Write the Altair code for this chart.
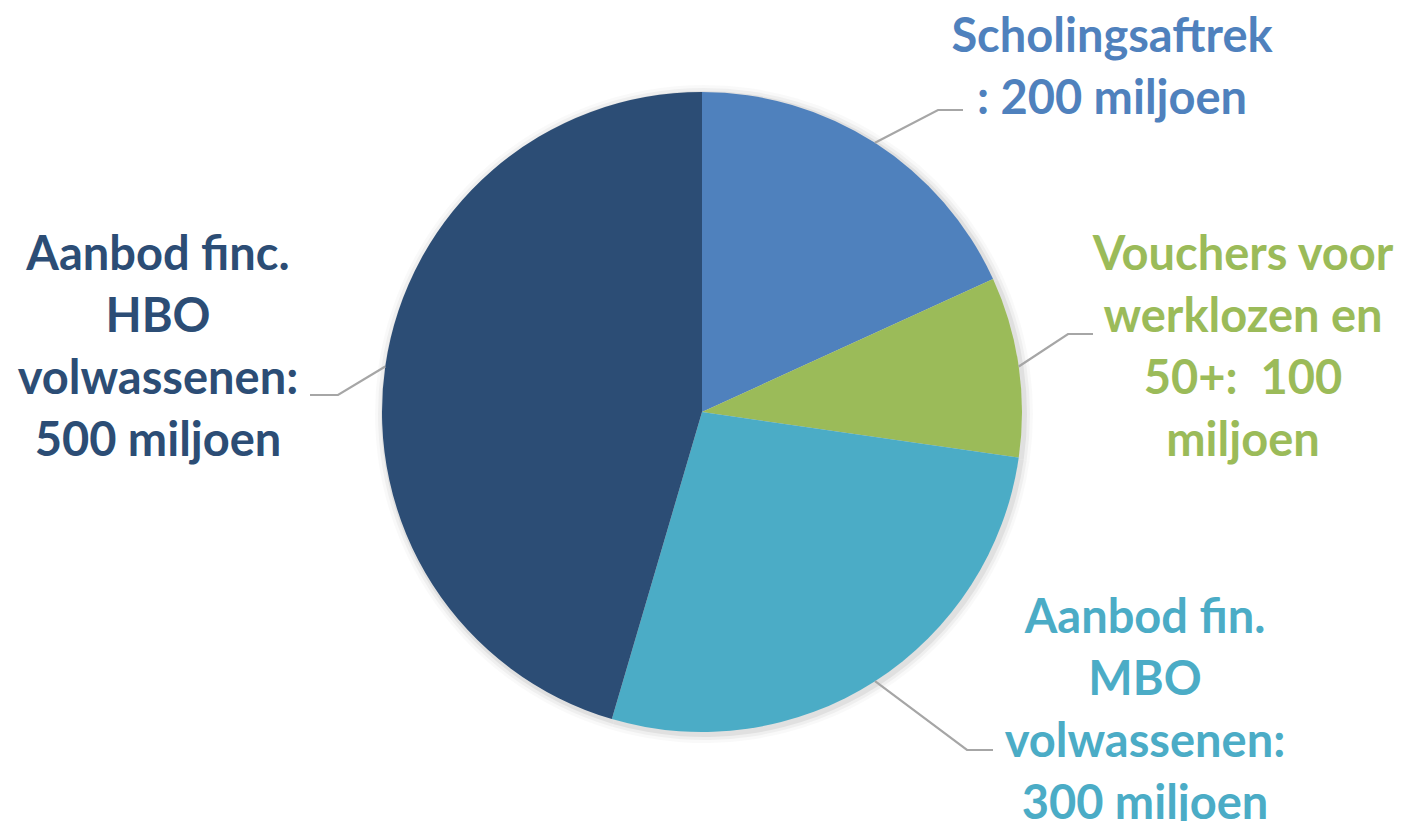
import altair as alt
import numpy as np
import pandas as pd

# ---- data ----
categories = [
    "Scholingsaftrek",
    "Vouchers voor werklozen en 50+",
    "Aanbod fin. MBO volwassenen",
    "Aanbod finc. HBO volwassenen",
]
values = [200, 100, 300, 500]
label_texts = [
    "Scholingsaftrek\n: 200 miljoen",
    "Vouchers voor\nwerklozen en\n50+:\u00a0 100\nmiljoen",
    "Aanbod fin.\nMBO\nvolwassenen:\n300 miljoen",
    "Aanbod finc.\nHBO\nvolwassenen:\n500 miljoen",
]
colors = ["#4F81BD", "#9BBB59", "#4BACC6", "#2C4D75"]

# ---- layout ----
W, H = 1387, 813
CX, CY = 694, 404
R = 320
label_pos = [(1104, 44), (1235, 262), (1137, 625), (150, 262)]
elbows = [(930, 102), (1060, 326), (959, 742), (330, 387)]
ends = [(955, 102), (1085, 326), (985, 742), (302, 387)]

vals = np.array(values, dtype=float)
total = vals.sum()
mid = (np.cumsum(vals) - vals / 2) / total * 2 * np.pi

df = pd.DataFrame({"category": categories, "value": values, "idx": range(len(values))})

color_scale = alt.Scale(domain=categories, range=colors)
xs = alt.Scale(domain=[0, W], nice=False, zero=False)
ys = alt.Scale(domain=[0, H], nice=False, zero=False, reverse=True)

# leader lines
rows = []
for i, c in enumerate(categories):
    sx = CX + R * np.sin(mid[i])
    sy = CY - R * np.cos(mid[i])
    pts = [(sx, sy), elbows[i], ends[i]]
    for k, (px, py) in enumerate(pts):
        rows.append({"category": c, "k": k, "x": px, "y": py})
lines_df = pd.DataFrame(rows)

lab_df = pd.DataFrame({
    "category": categories,
    "text": label_texts,
    "x": [p[0] for p in label_pos],
    "y": [p[1] for p in label_pos],
})

shadows = []
for r, op in [(329, 0.025), (326, 0.04), (323, 0.06)]:
    shadows.append(
        alt.Chart(df).mark_arc(outerRadius=r, color="#000000", opacity=op).encode(
            theta=alt.Theta("value:Q", stack=True),
            order=alt.Order("idx:Q"),
            x=alt.value(CX + 2),
            y=alt.value(CY + 2),
        )
    )

pie = alt.Chart(df).mark_arc(outerRadius=R).encode(
    theta=alt.Theta("value:Q", stack=True),
    color=alt.Color("category:N", scale=color_scale, legend=None),
    order=alt.Order("idx:Q"),
    x=alt.value(CX),
    y=alt.value(CY),
)

leaders = alt.Chart(lines_df).mark_line(color="#A6A6A6", strokeWidth=2.2).encode(
    x=alt.X("x:Q", scale=xs, axis=None),
    y=alt.Y("y:Q", scale=ys, axis=None),
    detail="category:N",
    order="k:Q",
)

labels = alt.Chart(lab_df).mark_text(
    font="Lato", fontWeight="bold", fontSize=47, align="center",
    baseline="alphabetic", lineBreak="\n", lineHeight=62,
).encode(
    x=alt.X("x:Q", scale=xs, axis=None),
    y=alt.Y("y:Q", scale=ys, axis=None),
    text="text:N",
    color=alt.Color("category:N", scale=color_scale, legend=None),
)

chart = alt.layer(*shadows, pie, leaders, labels).properties(
    width=W, height=H, padding=0, autosize=alt.AutoSizeParams(type="none"),
    background="white",
).configure_view(stroke=None)

chart.save("out.html", embed_options={"renderer": "svg", "actions": False})
